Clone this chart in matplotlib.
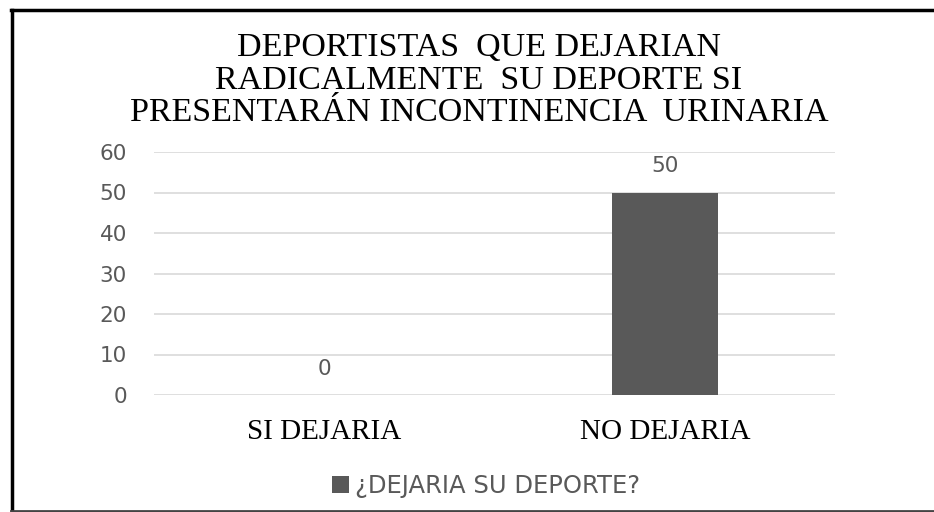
import matplotlib
matplotlib.use("Agg")
import matplotlib.pyplot as plt
from matplotlib.lines import Line2D
from matplotlib.patches import Patch

categories = ["SI DEJARIA", "NO DEJARIA"]
values = [0, 50]
series_name = "¿DEJARIA SU DEPORTE?"
title_lines = ["DEPORTISTAS  QUE DEJARIAN",
               "RADICALMENTE  SU DEPORTE SI",
               "PRESENTARÁN INCONTINENCIA  URINARIA"]
yticks = [0, 10, 20, 30, 40, 50, 60]

W, H = 934, 512
fig = plt.figure(figsize=(W / 100, H / 100), dpi=100)

bar_color = "#595959"
text_gray = "#595959"
serif = ["Liberation Serif", "DejaVu Serif"]
sans = ["DejaVu Sans"]

# plot area in pixel coordinates
x0, x1 = 154, 835
y_top, y_bot = 152, 395
ax = fig.add_axes([x0 / W, 1 - y_bot / H, (x1 - x0) / W, (y_bot - y_top) / H])

xs = list(range(len(categories)))
ax.bar(xs, values, width=0.31, color=bar_color, zorder=3)
ax.set_xlim(-0.5, len(categories) - 0.5)
ax.set_ylim(0, 60)
ax.set_yticks(yticks)
ax.set_yticklabels([str(t) for t in yticks], fontfamily=sans, fontsize=15.5, color=text_gray)
ax.set_xticks(xs)
ax.set_xticklabels(categories, fontfamily=serif, fontsize=21, color="black")
ax.tick_params(axis="y", length=0, pad=19.5)
ax.tick_params(axis="x", length=0, pad=17)
ax.grid(axis="y", color="#d9d9d9", linewidth=1.2, zorder=0)
for s in ax.spines.values():
    s.set_visible(False)

for x, v in zip(xs, values):
    ax.annotate(str(v), (x, v), xytext=(0, 19), textcoords="offset points",
                ha="center", va="center", fontfamily=sans, fontsize=15.5, color=text_gray)

# title
for i, line in enumerate(title_lines):
    fig.text(479 / W, 1 - (48 + 32.5 * i) / H, line, ha="center", va="center",
             fontfamily=serif, fontsize=24.5, color="black")

# legend
ax.legend([Patch(facecolor=bar_color)], [series_name], loc="center",
          bbox_to_anchor=((486 - x0) / (x1 - x0), (y_bot - 486) / (y_bot - y_top)),
          frameon=False, prop={"family": sans, "size": 17.5},
          labelcolor=text_gray, handlelength=0.7, handleheight=0.7, handletextpad=0.25)

# frame around the figure
fig.add_artist(Line2D([12 / W, 12 / W], [1 - 10 / H, 1 - 511 / H], color="black", lw=2.5))
fig.add_artist(Line2D([11 / W, 1], [1 - 10 / H, 1 - 10 / H], color="black", lw=2.5))
fig.add_artist(Line2D([11 / W, 1], [1 - 511 / H, 1 - 511 / H], color="#444444", lw=2))

# descender of the caption above the frame
fig.text(452 / W, 1 + 9 / H, "g", ha="center", va="center", fontfamily=serif,
         fontsize=15, style="italic", color="black")

fig.savefig("out.png", dpi=100)
